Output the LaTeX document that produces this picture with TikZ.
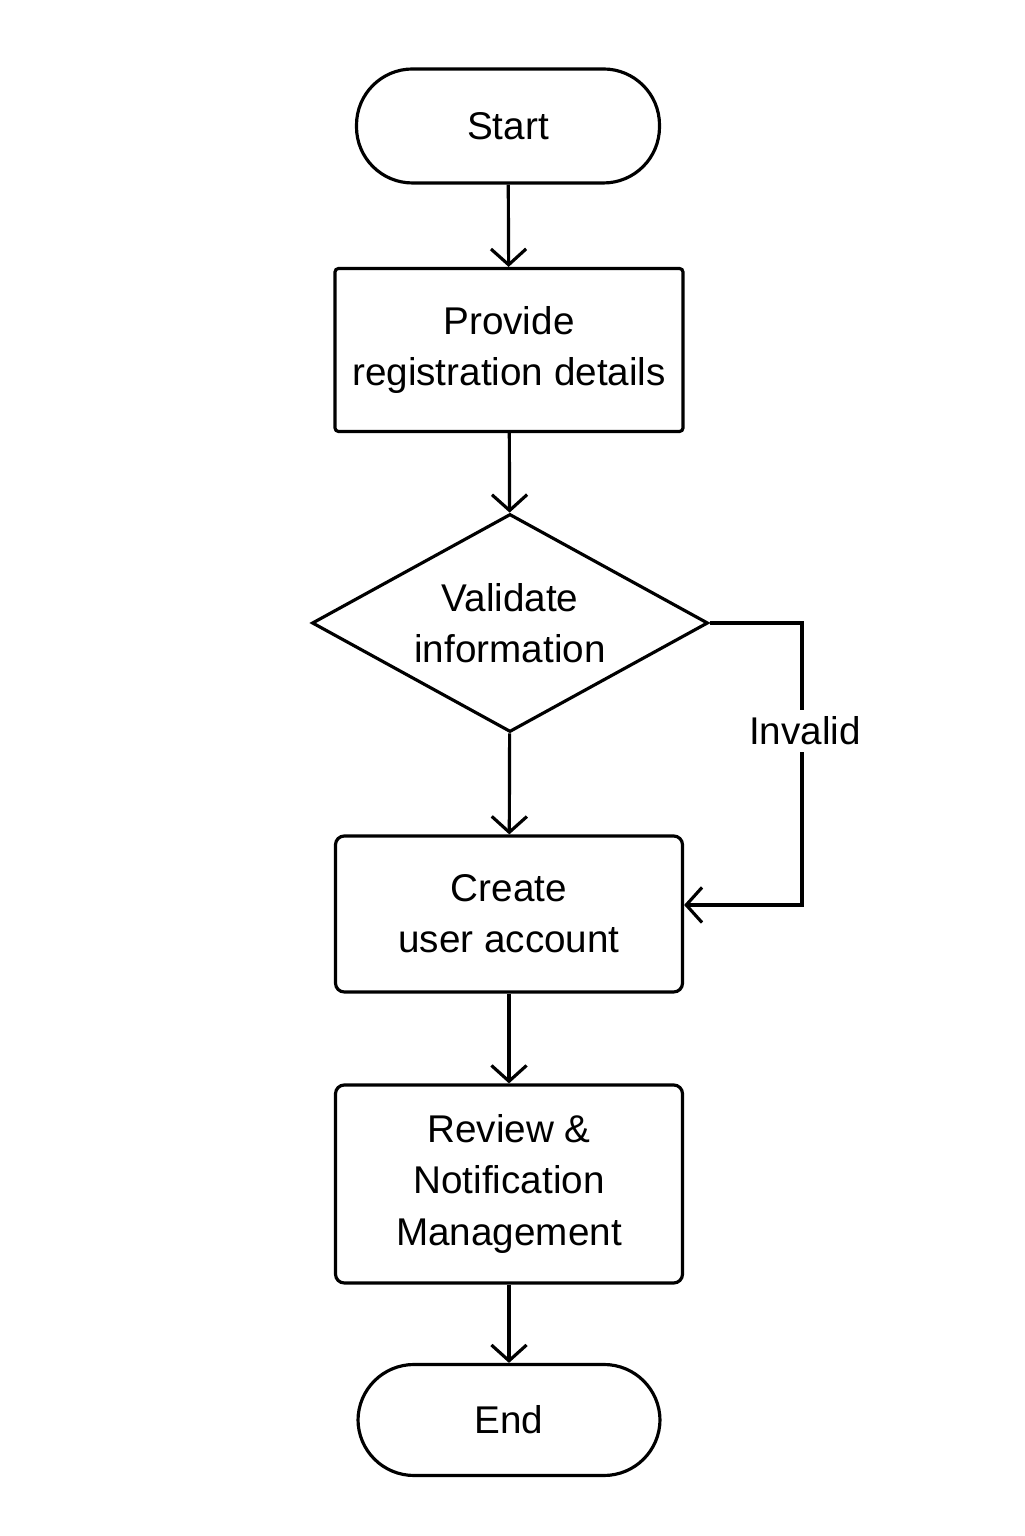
\documentclass[tikz,border=0pt]{standalone}
\usepackage{fontspec}
\setmainfont{Liberation Sans}
\usetikzlibrary{shapes.geometric, arrows.meta, positioning}
\tikzset{
  tn/.style={draw,line width=0.9pt,rounded corners=0.56cm,minimum width=3.03cm,minimum height=1.14cm,align=center},
  pn/.style={draw,line width=0.9pt,rounded corners=2.5pt,minimum width=3.47cm,align=center},
  dn/.style={draw,line width=0.9pt,diamond,aspect=1.82,inner sep=0pt,minimum width=3.96cm,minimum height=2.18cm,align=center},
  lbl/.style={fill=white,inner sep=2pt},
  to/.style={-{Straight Barb[length=4.5pt,width=10pt]},line width=0.9pt},
}

\begin{document}
\begin{tikzpicture}[font=\fontsize{11}{14.6}\selectfont]
  \useasboundingbox (0,0) rectangle (10.24,15.36);

  \node [tn] (start) at (5.08,14.10) {Start};
  \node [pn,rounded corners=1pt,minimum width=3.48cm,minimum height=1.63cm] (details) at (5.09,11.86) {Provide\\registration details};
  \node [dn] (validate) at (5.10,9.13) {Validate\\information};
  \node [pn,minimum height=1.56cm] (create) at (5.09,6.22) {Create\\user account};
  \node [pn,minimum height=1.98cm] (review) at (5.09,3.52) {Review \&\\Notification\\Management};
  \node [tn,minimum width=3.02cm,minimum height=1.11cm] (end) at (5.09,1.16) {End};

  \draw [to] (start) -- (details);
  \draw [to] (details) -- (validate);
  \draw [to] (validate) -- (create);
  \draw [to] (create) -- (review);
  \draw [to] (review) -- (end);

  % invalid loop back
  \coordinate (back) at (8.02,6.31);
  \draw [to] (validate.east) -| (back) -- (create.east |- back);
  \node [lbl] (invalid) at (8.05,8.05) {Invalid};
\end{tikzpicture}
\end{document}
